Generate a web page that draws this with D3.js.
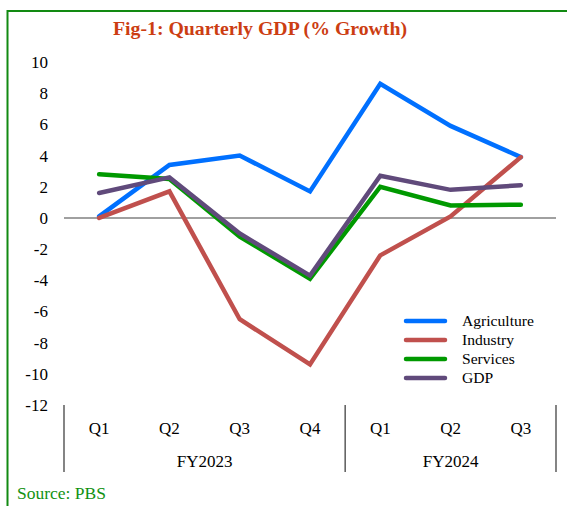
<!DOCTYPE html>
<html>
<head>
<meta charset="utf-8">
<script src="https://cdn.jsdelivr.net/npm/d3@7"></script>
<style>
  body { margin: 0; background: #fff; }
  svg text { font-family: "Liberation Serif", "Times New Roman", serif; }
</style>
</head>
<body>
<div id="chart"></div>
<script>
var quarters = ['Q1', 'Q2', 'Q3', 'Q4', 'Q1', 'Q2', 'Q3'];
var years = ['FY2023', 'FY2024'];
var yearSpans = [4, 3];
var yTicks = [10, 8, 6, 4, 2, 0, -2, -4, -6, -8, -10, -12];

var seriesNames = ['Agriculture', 'Industry', 'Services', 'GDP'];
var seriesColors = ['#0070ff', '#c0504d', '#009900', '#604a7b'];
var agriculture = [0.1, 3.4, 4.0, 1.7, 8.6, 5.9, 3.9];
var industry = [0.0, 1.7, -6.5, -9.4, -2.4, 0.1, 3.9];
var services = [2.8, 2.5, -1.2, -3.9, 2.0, 0.8, 0.85];
var gdp = [1.6, 2.6, -1.0, -3.7, 2.7, 1.8, 2.1];
var seriesValues = [agriculture, industry, services, gdp];

var width = 567, height = 506;
var plotLeft = 64, plotRight = 556, plotTop = 62, plotBottom = 405;

var svg = d3.select('#chart').append('svg')
  .attr('width', width)
  .attr('height', height);

// green frame (open at right and bottom)
svg.append('path')
  .attr('d', 'M7.5,' + height + 'V11H' + width)
  .attr('fill', 'none')
  .attr('stroke', '#128a12')
  .attr('stroke-width', 2);

svg.append('text')
  .attr('x', 260)
  .attr('y', 35)
  .attr('text-anchor', 'middle')
  .style('font-size', '19.8px')
  .style('font-weight', 'bold')
  .attr('fill', '#cc3d12')
  .text('Fig-1: Quarterly GDP (% Growth)');

var x = d3.scaleBand()
  .domain(d3.range(quarters.length))
  .range([plotLeft, plotRight]);

var y = d3.scaleLinear()
  .domain([-12, 10])
  .range([plotBottom, plotTop]);

// y tick labels
svg.append('g').selectAll('text')
  .data(yTicks)
  .enter().append('text')
  .attr('x', 48)
  .attr('y', function(d){ return y(d) + 6 })
  .attr('text-anchor', 'end')
  .style('font-size', '17px')
  .attr('fill', '#000')
  .text(function(d){ return d });

// zero line
svg.append('line')
  .attr('x1', plotLeft).attr('x2', plotRight)
  .attr('y1', y(0)).attr('y2', y(0))
  .attr('stroke', '#808080')
  .attr('stroke-width', 1.5);

// category axis: quarter labels
svg.append('g').selectAll('text')
  .data(quarters)
  .enter().append('text')
  .attr('x', function(d, i){ return x(i) + x.bandwidth() / 2 })
  .attr('y', 434)
  .attr('text-anchor', 'middle')
  .style('font-size', '17px')
  .text(function(d){ return d });

// year groups and separators
var starts = [0];
yearSpans.forEach(function(s, i){ starts.push(starts[i] + s) });
svg.append('g').selectAll('line')
  .data(starts)
  .enter().append('line')
  .attr('x1', function(d){ return d < quarters.length ? x(d) : plotRight })
  .attr('x2', function(d){ return d < quarters.length ? x(d) : plotRight })
  .attr('y1', plotBottom)
  .attr('y2', 472)
  .attr('stroke', '#333')
  .attr('stroke-width', 1.2);

svg.append('g').selectAll('text')
  .data(years)
  .enter().append('text')
  .attr('x', function(d, i){
    var a = x(starts[i]);
    var b = starts[i + 1] < quarters.length ? x(starts[i + 1]) : plotRight;
    return (a + b) / 2;
  })
  .attr('y', 467)
  .attr('text-anchor', 'middle')
  .style('font-size', '17px')
  .text(function(d){ return d });

// lines
var line = d3.line()
  .x(function(d, i){ return x(i) + x.bandwidth() / 2 })
  .y(function(d){ return y(d) });

svg.append('g').selectAll('path')
  .data(seriesValues)
  .enter().append('path')
  .attr('d', line)
  .attr('fill', 'none')
  .attr('stroke', function(d, i){ return seriesColors[i] })
  .attr('stroke-width', 4.5)
  .attr('stroke-linejoin', 'miter')
  .attr('stroke-linecap', 'round');

// legend
var legend = svg.append('g').selectAll('g')
  .data(seriesNames)
  .enter().append('g')
  .attr('transform', function(d, i){ return 'translate(0,' + (321 + i * 19) + ')' });

legend.append('line')
  .attr('x1', 406).attr('x2', 445)
  .attr('y1', 0).attr('y2', 0)
  .attr('stroke', function(d, i){ return seriesColors[i] })
  .attr('stroke-width', 4.5)
  .attr('stroke-linecap', 'round');

legend.append('text')
  .attr('x', 462)
  .attr('y', 5)
  .style('font-size', '15.6px')
  .text(function(d){ return d });

svg.append('text')
  .attr('x', 17)
  .attr('y', 499)
  .style('font-size', '17.5px')
  .attr('fill', '#129212')
  .text('Source: PBS');
</script>
</body>
</html>
